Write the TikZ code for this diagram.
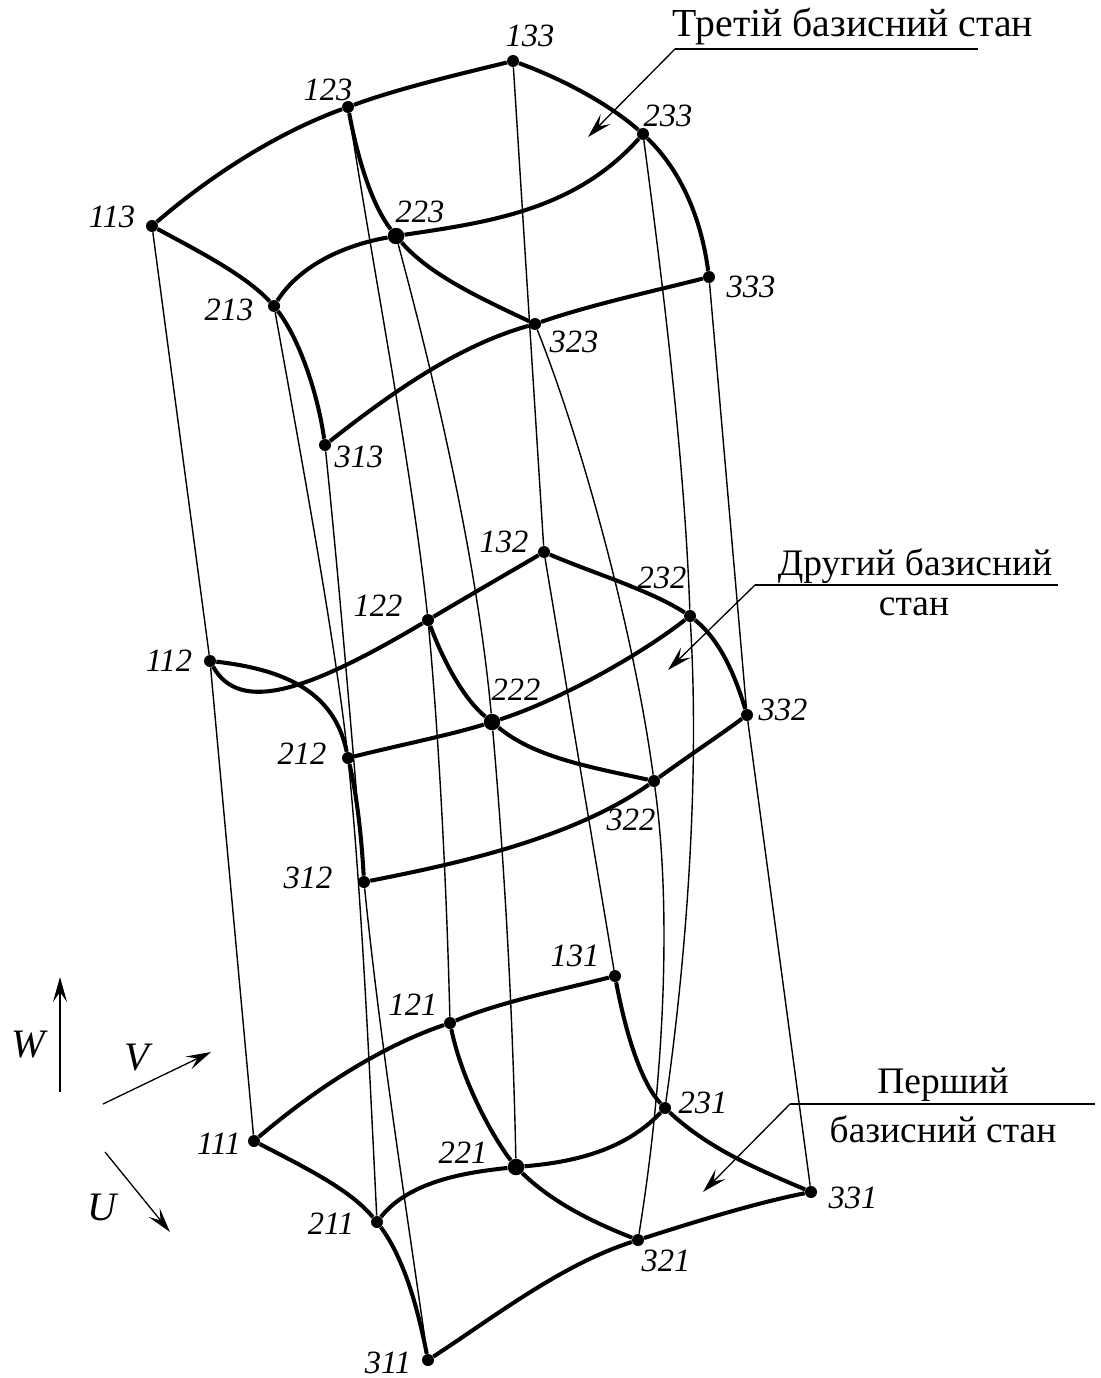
\documentclass[tikz,border=0pt]{standalone}
\usepackage{fontspec}
\setmainfont{Liberation Serif}
\usetikzlibrary{arrows.meta}
\tikzset{
    vertex/.style={circle, fill=black, inner sep=0pt, minimum size=0.24cm},
    bigvertex/.style={circle, fill=black, inner sep=0pt, minimum size=0.33cm},
    numlabel/.style={font=\fontsize{18.5}{20}\selectfont\itshape, inner sep=0pt},
    axislabel/.style={font=\fontsize{23}{25}\selectfont\itshape, inner sep=0pt},
    statelabel/.style={font=\fontsize{#1}{25}\selectfont, inner sep=0pt},
    statelabel/.default=21.3,
    edge/.style={line width=2.3pt},
    guide/.style={line width=0.8pt},
    pointer/.style={line width=0.75pt, -{Stealth[length=0.5cm, width=0.28cm, inset=0.2cm]}}
}
\begin{document}
\begin{tikzpicture}[x=0.02cm, y=-0.02cm]
    \useasboundingbox (0,0) rectangle (1100,1378);
    \foreach \n/\x/\y in {111/254/1141, 121/450/1023, 131/615/976, 211/377/1222, 231/665/1108, 311/428/1360, 321/638/1240, 331/811/1192,
        112/210/661, 122/428/620, 132/544/552, 212/348/758, 232/690/616, 312/364/882, 322/654/781, 332/747/715,
        113/152/226, 123/348/107, 133/513/61, 213/274/306, 233/643/134, 313/325/445, 323/535/324, 333/709/277}
        \node (p\n) [vertex] at (\x,\y) {};
    \node (p221) [bigvertex] at (516,1167) {};
    \node (p222) [bigvertex] at (492,722) {};
    \node (p223) [bigvertex] at (396,236) {};
    \foreach \n/\x/\y in {111/219/1144, 121/413/1005, 131/575/956, 211/331/1224, 221/463/1153, 231/703/1103, 311/388/1363, 321/666/1261, 331/853/1198,
        112/169/661, 122/378/606, 132/504/542, 212/302/754, 222/516/690, 232/662/578, 312/308/878, 322/631/820, 332/783/710,
        113/112/217, 123/328/90, 133/530/36, 213/229/310, 223/420/212, 233/668/116, 313/359/457, 323/574/342, 333/751/287}
        \node (l\n) [numlabel] at (\x,\y) {\n};
    % thin lines through the three states
    \foreach \a/\b in {113/112, 112/111, 133/132, 132/131, 333/332, 332/331}
        \draw[guide] (p\a) -- (p\b);
    \draw[guide] (p123) .. controls (375,280) and (412,470) .. (p122);
    \draw[guide] (p122) .. controls (440,750) and (447,900) .. (p121);
    \draw[guide] (p223) .. controls (440,400) and (478,570) .. (p222);
    \draw[guide] (p222) .. controls (505,870) and (513,1020) .. (p221);
    \draw[guide] (p323) .. controls (585,450) and (635,640) .. (p322);
    \draw[guide] (p322) .. controls (672,910) and (664,1080) .. (p321);
    \draw[guide] (p233) .. controls (665,300) and (685,470) .. (p232);
    \draw[guide] (p232) .. controls (700,780) and (686,960) .. (p231);
    \draw[guide] (p213) .. controls (300,450) and (335,640) .. (p212);
    \draw[guide] (p212) .. controls (362,900) and (370,1080) .. (p211);
    \draw[guide] (p313) .. controls (340,590) and (352,740) .. (p312);
    \draw[guide] (p312) .. controls (380,1040) and (405,1200) .. (p311);
    % third state
    \draw[edge] (p113) .. controls (215,172) and (280,132) .. (p123);
    \draw[edge] (p123) .. controls (400,88) and (460,74) .. (p133);
    \draw[edge] (p133) .. controls (565,80) and (610,105) .. (p233);
    \draw[edge] (p233) .. controls (685,175) and (702,225) .. (p333);
    \draw[edge] (p113) .. controls (200,252) and (245,275) .. (p213);
    \draw[edge] (p213) .. controls (300,340) and (318,395) .. (p313);
    \draw[edge] (p123) .. controls (358,160) and (372,205) .. (p223);
    \draw[edge] (p223) .. controls (430,275) and (480,298) .. (p323);
    \draw[edge] (p213) .. controls (300,265) and (345,245) .. (p223);
    \draw[edge] (p223) .. controls (490,222) and (575,210) .. (p233);
    \draw[edge] (p313) .. controls (395,390) and (460,345) .. (p323);
    \draw[edge] (p323) .. controls (590,305) and (650,292) .. (p333);
    % second state
    \draw[edge] (p112) .. controls (240,715) and (310,690) .. (p122);
    \draw[edge] (p122) .. controls (470,595) and (510,572) .. (p132);
    \draw[edge] (p132) .. controls (590,572) and (650,590) .. (p232);
    \draw[edge] (p232) .. controls (720,640) and (735,675) .. (p332);
    \draw[edge] (p112) .. controls (290,670) and (335,695) .. (p212);
    \draw[edge] (p212) .. controls (358,800) and (362,845) .. (p312);
    \draw[edge] (p122) .. controls (445,665) and (465,700) .. (p222);
    \draw[edge] (p222) .. controls (535,758) and (595,768) .. (p322);
    \draw[edge] (p212) .. controls (400,745) and (450,735) .. (p222);
    \draw[edge] (p222) .. controls (560,700) and (640,655) .. (p232);
    \draw[edge] (p312) .. controls (450,865) and (570,840) .. (p322);
    \draw[edge] (p322) .. controls (690,755) and (720,735) .. (p332);
    % first state
    \draw[edge] (p111) .. controls (320,1085) and (385,1045) .. (p121);
    \draw[edge] (p121) .. controls (500,1002) and (560,990) .. (p131);
    \draw[edge] (p131) .. controls (627,1040) and (643,1085) .. (p231);
    \draw[edge] (p231) .. controls (710,1150) and (760,1170) .. (p331);
    \draw[edge] (p111) .. controls (310,1170) and (350,1190) .. (p211);
    \draw[edge] (p211) .. controls (405,1260) and (418,1310) .. (p311);
    \draw[edge] (p121) .. controls (463,1085) and (495,1140) .. (p221);
    \draw[edge] (p221) .. controls (555,1205) and (600,1225) .. (p321);
    \draw[edge] (p211) .. controls (410,1180) and (470,1172) .. (p221);
    \draw[edge] (p221) .. controls (575,1162) and (625,1150) .. (p231);
    \draw[edge] (p311) .. controls (490,1320) and (560,1265) .. (p321);
    \draw[edge] (p321) .. controls (700,1220) and (760,1202) .. (p331);
    % state captions
    \node (third) [statelabel=22.6] at (853,27) {Третій базисний стан};
    \coordinate (thirdEnd) at (978,49);
    \coordinate (thirdBend) at (675,49);
    \coordinate (thirdTip) at (588,137);
    \draw[guide] (thirdEnd) -- (thirdBend);
    \draw[pointer] (thirdBend) -- (thirdTip);
    \node (second) [statelabel] at (915,566) {Другий базисний};
    \node (secondb) [statelabel] at (914,607) {стан};
    \coordinate (secondEnd) at (1058,585);
    \coordinate (secondBend) at (755,585);
    \coordinate (secondTip) at (668,670);
    \draw[guide] (secondEnd) -- (secondBend);
    \draw[pointer] (secondBend) -- (secondTip);
    \node (first) [statelabel] at (943,1085) {Перший};
    \node (firstb) [statelabel] at (943,1129) {базисний стан};
    \coordinate (firstEnd) at (1095,1104);
    \coordinate (firstBend) at (790,1104);
    \coordinate (firstTip) at (703,1192);
    \draw[guide] (firstEnd) -- (firstBend);
    \draw[pointer] (firstBend) -- (firstTip);
    % axes
    \node (w) [axislabel] at (28,1045) {W};
    \node (v) [axislabel] at (137,1058) {V};
    \node (u) [axislabel] at (102,1207) {U};
    \coordinate (wa) at (60,1092);
    \coordinate (wb) at (60,977);
    \coordinate (va) at (103,1104);
    \coordinate (vb) at (211,1052);
    \coordinate (ua) at (105,1152);
    \coordinate (ub) at (170,1232);
    \draw[pointer] (wa) -- (wb);
    \draw[pointer] (va) -- (vb);
    \draw[pointer] (ua) -- (ub);
\end{tikzpicture}
\end{document}
